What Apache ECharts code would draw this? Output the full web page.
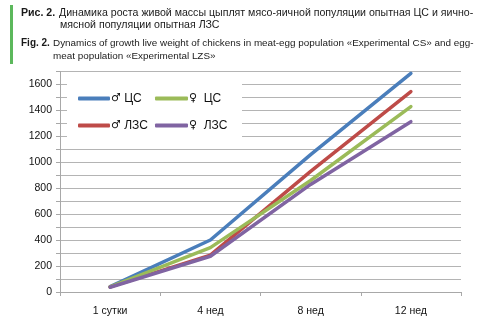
<!DOCTYPE html>
<html><head><meta charset="utf-8">
<script src="https://cdn.jsdelivr.net/npm/echarts@6/dist/echarts.min.js"></script>
<style>html,body{margin:0;padding:0;background:#fff}#c{width:478px;height:329px}</style>
</head><body><div id="c"></div>
<script>
const categories = ['1 сутки', '4 нед', '8 нед', '12 нед'];
const maleCS = [42, 401, 1060, 1687];
const femaleCS = [40, 342, 860, 1430];
const maleLZS = [39, 285, 930, 1545];
const femaleLZS = [37, 276, 830, 1314];
const seriesNames = ['♂ ЦС', '♀  ЦС', '♂ ЛЗС', '♀  ЛЗС'];
const yMax = 1700, yStep = 100, yLabelStep = 200;

const FONT = 'Liberation Sans, Arial, sans-serif';
const chart = echarts.init(document.getElementById('c'), null, {renderer: 'canvas'});
const colors = ['#4A7EBB', '#9BBB59', '#BE4B48', '#8064A2'];
const data = [maleCS, femaleCS, maleLZS, femaleLZS];
const order = [0, 2, 1, 3];
const legendFmt = name => {
  const sym = name.charAt(0);
  const rest = name.slice(1);
  return '{s|' + sym + '}{t|' + rest + '}';
};
const legendText = {
  fontFamily: FONT, fontSize: 12, color: '#111', padding: [0, 0, 0, -4], lineHeight: 14,
  rich: {
    s: {fontFamily: 'DejaVu Sans', fontSize: 11, color: '#111', lineHeight: 14},
    t: {fontFamily: FONT, fontSize: 12, color: '#111', lineHeight: 14}
  }
};
chart.setOption({
  animation: false,
  color: colors,
  grid: {left: 60, right: 17, top: 71.6, bottom: 37, containLabel: false},
  xAxis: {
    type: 'category', data: categories, boundaryGap: true,
    axisLine: {lineStyle: {color: '#a8a8a8', width: 1}},
    axisTick: {show: true, length: 4, lineStyle: {color: '#a8a8a8'}},
    axisLabel: {color: '#111', fontFamily: FONT, fontSize: 10.5, margin: 14}
  },
  yAxis: {
    type: 'value', min: 0, max: yMax, interval: yStep,
    axisLine: {show: true, lineStyle: {color: '#a8a8a8'}},
    axisTick: {show: true, length: 4, lineStyle: {color: '#a8a8a8'}},
    splitLine: {lineStyle: {color: '#b4b4b4', width: 1}},
    axisLabel: {color: '#111', fontFamily: FONT, fontSize: 10.5, margin: 8,
      formatter: v => (v % yLabelStep === 0 ? String(v) : '')}
  },
  legend: [
    {data: [seriesNames[0], seriesNames[2]], orient: 'vertical', left: 73, top: 86.5, padding: 5,
     itemWidth: 32, itemHeight: 4, itemGap: 13, icon: 'roundRect', z: 20,
     formatter: legendFmt, textStyle: legendText},
    {data: [seriesNames[1], seriesNames[3]], orient: 'vertical', left: 150, top: 86.5, padding: 5,
     itemWidth: 33, itemHeight: 4, itemGap: 13, icon: 'roundRect', z: 20,
     formatter: legendFmt, textStyle: legendText}
  ],
  graphic: [
    {type: 'rect', shape: {x: 67, y: 80, width: 175, height: 62}, style: {fill: '#fff'}, z: 10, silent: true},
    {type: 'rect', shape: {x: 10, y: 5, width: 3, height: 59}, style: {fill: '#5cb85c'}, z: 10},
    {type: 'text', x: 21, y: 13, z: 10, style: {text: 'Рис. 2.', fontFamily: FONT, fontWeight: 'bold', fontSize: 10.6, fill: '#1a1a1a', verticalAlign: 'middle'}},
    {type: 'text', x: 59, y: 13, z: 10, style: {text: 'Динамика роста живой массы цыплят мясо-яичной популяции опытная ЦС и яично-', fontFamily: FONT, fontSize: 10.6, fill: '#1a1a1a', verticalAlign: 'middle'}},
    {type: 'text', x: 60, y: 25, z: 10, style: {text: 'мясной популяции опытная ЛЗС', fontFamily: FONT, fontSize: 10.6, fill: '#1a1a1a', verticalAlign: 'middle'}},
    {type: 'text', x: 21, y: 43.5, z: 10, style: {text: 'Fig. 2.', fontFamily: FONT, fontWeight: 'bold', fontSize: 10, fill: '#1a1a1a', verticalAlign: 'middle'}},
    {type: 'text', x: 53, y: 43.5, z: 10, style: {text: 'Dynamics of growth live weight of chickens in meat-egg population «Experimental CS» and egg-', fontFamily: FONT, fontSize: 9.9, fill: '#1a1a1a', verticalAlign: 'middle'}},
    {type: 'text', x: 53, y: 56, z: 10, style: {text: 'meat population «Experimental LZS»', fontFamily: FONT, fontSize: 9.9, fill: '#1a1a1a', verticalAlign: 'middle'}}
  ],
  series: order.map(i => ({
    name: seriesNames[i], type: 'line', data: data[i], symbol: 'none',
    lineStyle: {width: 3.5, color: colors[i], cap: 'round', join: 'round'},
    itemStyle: {color: colors[i]}, z: 3
  }))
});
</script></body></html>
